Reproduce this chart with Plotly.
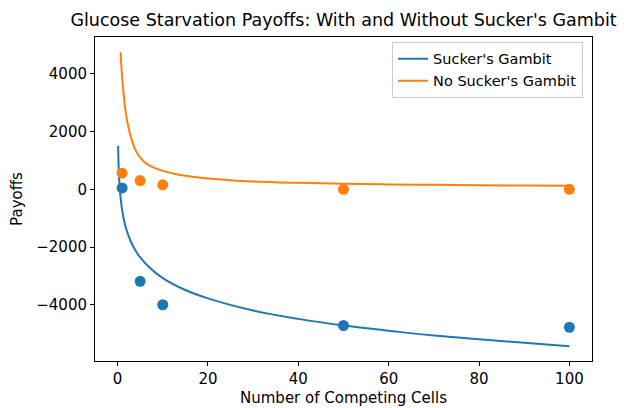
import plotly.graph_objs as go

# Fitted curves
sg_curve_x = [0.12, 0.2, 0.3, 0.5, 0.75, 1, 1.5, 2, 3, 4, 5, 7, 10, 15, 20, 30, 40, 50, 60, 70, 80, 90, 100]
sg_curve_y = [1500, 950, 525, 0, -415, -710, -1125, -1420, -1835, -2130, -2360, -2700, -3075, -3490,
              -3780, -4200, -4490, -4720, -4900, -5070, -5200, -5320, -5435]

nsg_curve_x = [0.66, 0.8, 1.0, 1.3, 1.7, 2.2, 3.2, 4, 5, 6.5, 8, 10, 13, 17, 22, 30, 40, 50, 60, 70, 80, 90, 100]
nsg_curve_y = [4750, 4350, 3900, 3350, 2800, 2300, 1680, 1350, 1100, 880, 750, 640, 525, 430, 350, 275,
               225, 190, 170, 155, 140, 130, 120]

# Observed payoffs
cells = [1, 5, 10, 50, 100]
sg_payoffs = [50, -3190, -4000, -4720, -4780]
nsg_payoffs = [560, 305, 155, 0, 0]

blue = "#1f77b4"
orange = "#ff7f0e"

fig = go.Figure()
fig.add_trace(go.Scatter(x=sg_curve_x, y=sg_curve_y, mode="lines", line_shape="spline",
                         line=dict(color=blue, width=2), name="Sucker's Gambit"))
fig.add_trace(go.Scatter(x=nsg_curve_x, y=nsg_curve_y, mode="lines", line_shape="spline",
                         line=dict(color=orange, width=2), name="No Sucker's Gambit"))
fig.add_trace(go.Scatter(x=cells, y=sg_payoffs, mode="markers",
                         marker=dict(color=blue, size=11), showlegend=False))
fig.add_trace(go.Scatter(x=cells, y=nsg_payoffs, mode="markers",
                         marker=dict(color=orange, size=11), showlegend=False))

axis_style = dict(showline=True, linecolor="black", linewidth=1, mirror=True,
                  ticks="outside", ticklen=4, tickcolor="black", showgrid=False,
                  zeroline=False, automargin=False, tickfont=dict(size=15, color="black"))

fig.update_layout(
    width=624, height=408,
    margin=dict(l=95, r=32, t=37, b=47),
    paper_bgcolor="white", plot_bgcolor="white",
    font=dict(family="DejaVu Sans", color="black"),
    title=dict(text="Glucose Starvation Payoffs: With and Without Sucker's Gambit",
               x=0.5, xref="paper", xanchor="center", yref="container", y=1 - 20 / 408,
               yanchor="middle", automargin=False, font=dict(size=17.5, color="black")),
    xaxis=dict(axis_style, range=[-5, 105], tickvals=[0, 20, 40, 60, 80, 100],
               title=dict(text="Number of Competing Cells", font=dict(size=15), standoff=5)),
    yaxis=dict(axis_style, range=[-5950, 5280], tickvals=[-4000, -2000, 0, 2000, 4000],
               title=dict(text="Payoffs", font=dict(size=15), standoff=10)),
    legend=dict(x=0.982, xanchor="right", y=0.985, yanchor="top", bgcolor="white",
                bordercolor="#cccccc", borderwidth=1, font=dict(size=14.5),
                tracegroupgap=0),
)

# the page's default body margin would push the figure off the window
fig.write_html("out.html", config={"displayModeBar": False},
               post_script="document.body.style.margin='0';")
